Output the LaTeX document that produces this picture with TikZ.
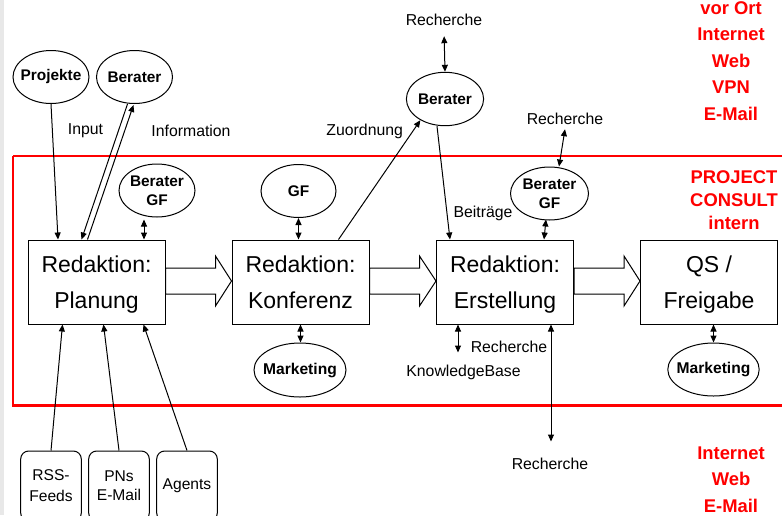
\documentclass[tikz,border=0pt]{standalone}
\usepackage{fontspec}
\setmainfont{Liberation Sans}
\usetikzlibrary{arrows.meta,calc,shapes.geometric}

\tikzset{
  lbl/.style={font=\fontsize{7.9}{9.5}\selectfont, inner sep=2pt},
  redlbl/.style={text=red, font=\bfseries\fontsize{9.2}{13.25}\selectfont, align=center, inner sep=0pt},
  stepbox/.style={draw, line width=0.5pt, minimum width=68.5pt, minimum height=42pt, align=center,
    font=\fontsize{11.5}{17.7}\selectfont, inner sep=0pt, text depth=0pt},
  oval/.style={draw, ellipse, line width=0.5pt, minimum width=38pt, minimum height=26.5pt, align=center,
    inner xsep=-2.5pt, inner ysep=0pt, font=\bfseries\fontsize{7.7}{9.5}\selectfont},
  srcbox/.style={draw, rounded corners=4pt, line width=0.5pt, minimum width=30.3pt, minimum height=35pt,
    align=center, inner sep=0pt, font=\fontsize{7.8}{10.5}\selectfont},
  tip/.style={-{Triangle[length=3.5pt,width=3pt]}, line width=0.5pt},
  dtip/.style={{Triangle[length=3.5pt,width=3pt]}-{Triangle[length=3.5pt,width=3pt]}, line width=0.5pt},
  fat/.style={draw, fill=white, line width=0.5pt}
}

\begin{document}
\begin{tikzpicture}[x=0.5pt,y=-0.5pt]
\useasboundingbox (0,0) rectangle (782,515);
\clip (0,0) rectangle (782,515);
\fill[gray!18] (0,0) rectangle (3.5,515);

%%%%%%%%%%% Bereich intern
\draw[red, line width=1.25pt] (13,156) -- (790,156) (13,156) -- (13,405.5) -- (790,405.5);

%%%%%%%%%%% Redaktion
\node[stepbox] (plan) at (96.5,282) {Redaktion:\\Planung};
\node[stepbox] (konf) at (300.5,282) {Redaktion:\\Konferenz};
\node[stepbox] (erst) at (505,282) {Redaktion:\\Erstellung};
\node[stepbox] (qs)   at (709,282) {QS /\\Freigabe};

% ---------------    Blockpfeile
\foreach \a/\b in {plan/konf, konf/erst, erst/qs}{
  \draw[fat] ($(\a.east)+(0,-14)$) -- ++(50,0) -- ++(0,-12) -- ($(\b.west)+(0,-1)$)
    -- ($(\a.east)+(50,24)$) -- ++(0,-12) -- ($(\a.east)+(0,12)$) -- cycle;
}

%%%%%%%%%%% Ovale
\node[oval] (proj) at (51,77) {Projekte};
\node[oval] (ber1) at (134.5,77) {Berater};
\node[oval, minimum width=38.6pt, minimum height=26.7pt] (ber2) at (445,99) {Berater};
\node[oval] (bgf1) at (157,190.5) {Berater\\GF};
\node[oval, minimum width=37.5pt] (gf) at (298.5,191) {GF};
\node[oval, minimum width=39pt] (bgf2) at (549.5,193.5) {Berater\\GF};
\node[oval, minimum width=46pt, minimum height=27pt, font=\bfseries\fontsize{7.8}{9.5}\selectfont] (mkt1) at (300,370) {Marketing};
\node[oval, minimum width=45.7pt, font=\bfseries\fontsize{7.8}{9.5}\selectfont] (mkt2) at (713.5,369.5) {Marketing};

%%%%%%%%%%% Quellen
\node[srcbox] (rss) at (51,486) {RSS-\\Feeds};
\node[srcbox, font=\fontsize{7.8}{9.5}\selectfont] (pns) at (119,486) {PNs\\E-Mail};
\node[srcbox] (agt) at (187,486) {Agents};

%%%%%%%%%%% Beschriftungen
\node[lbl] (inp)  at (85.5,131) {Input};
\node[lbl] (info) at (191,131) {Information};
\node[lbl] (zuo)  at (364.7,131) {Zuordnung};
\node[lbl] (beit) at (483,213) {Beiträge};
\node[lbl] (rech1) at (444,20) {Recherche};
\node[lbl] (rech2) at (565,119) {Recherche};
\node[lbl] (rech3) at (509,347) {Recherche};
\node[lbl] (kb)    at (463.5,372) {KnowledgeBase};
\node[lbl] (rech4) at (550,464) {Recherche};

\node[redlbl] (ext1) at (731,61) {vor Ort\\Internet\\Web\\VPN\\E-Mail};
\node[redlbl, font=\bfseries\fontsize{9.2}{11.5}\selectfont] (pci) at (734,200) {PROJECT\\CONSULT\\intern};
\node[redlbl] (ext2) at (731,479.5) {Internet\\Web\\E-Mail};

%%%%%%%%%%% Verbindungen
% ---------------    Planung
\draw[tip] (proj.south) -- ($(plan.north west)+(30.5,0)$);
\draw[tip] ($(ber1.south)+(-7,0)$) -- ($(plan.north west)+(54,0)$);
\draw[tip] ($(plan.north west)+(60,0)$) -- ($(ber1.south)+(-1,1)$);
\draw[dtip] ($(plan.north)+(47.5,0)$) -- ($(bgf1.south)+(-13,2)$);
\draw[tip] (rss.north) -- ($(plan.south west)+(35,0)$);
\draw[tip] (pns.north) -- ($(plan.south west)+(76,0)$);
\draw[tip] (agt.north) -- ($(plan.south west)+(116,0)$);
% ---------------    Konferenz
\draw[dtip] (gf.south) -- (gf.south |- konf.north);
\draw[dtip] (konf.south) -- (konf.south |- mkt1.north);
\draw[tip] ($(konf.north east)+(-31,0)$) -- ($(ber2.south west)+(3,2)$);
\draw[dtip, shorten <=3pt] (rech1.south) -- (ber2.north);
% ---------------    Erstellung
\draw[tip] ($(ber2.south)+(-8,0)$) -- ($(erst.north west)+(14,0)$);
\draw[dtip] ($(bgf2.south)+(-3.5,-1)$) -- ($(erst.north east)+(-30,0)$);
\draw[dtip] ($(bgf2.north)+(9.5,0)$) -- (rech2.south);
\coordinate (kbend) at ($(erst.south west)+(22,28)$);
\draw[dtip] ($(erst.south west)+(22,0)$) -- (kbend);
\coordinate (rend) at ($(erst.south east)+(-23,117)$);
\draw[dtip] ($(erst.south east)+(-23,0)$) -- (rend);
% ---------------    Freigabe
\draw[dtip] (mkt2.north |- qs.south) -- (mkt2.north);
\end{tikzpicture}
\end{document}
